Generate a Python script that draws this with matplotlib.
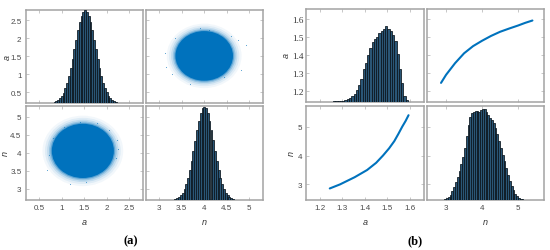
import matplotlib
matplotlib.use("Agg")
import matplotlib.pyplot as plt
from matplotlib.patches import Ellipse

W, H = 550, 251

# ---------------- panel (a): histograms ----------------
a_hist_a_centers = [0.84, 0.88, 0.92, 0.96, 1.00, 1.04, 1.08, 1.12, 1.16, 1.20, 1.24, 1.28,
                    1.32, 1.36, 1.40, 1.44, 1.48, 1.52, 1.56, 1.60, 1.64, 1.68, 1.72, 1.76,
                    1.80, 1.84, 1.88, 1.92, 1.96, 2.00, 2.04, 2.08, 2.12, 2.16, 2.20]
a_hist_a_heights = [0.012, 0.021, 0.034, 0.052, 0.079, 0.112, 0.161, 0.219, 0.293, 0.381, 0.476, 0.581,
                    0.684, 0.786, 0.872, 0.942, 0.984, 1.000, 0.986, 0.940, 0.874, 0.784, 0.686, 0.579,
                    0.478, 0.380, 0.295, 0.220, 0.159, 0.114, 0.077, 0.053, 0.033, 0.020, 0.012]
a_hist_n_centers = [3.36, 3.40, 3.44, 3.48, 3.52, 3.56, 3.60, 3.64, 3.68, 3.72, 3.76, 3.80,
                    3.84, 3.88, 3.92, 3.96, 4.00, 4.04, 4.08, 4.12, 4.16, 4.20, 4.24, 4.28,
                    4.32, 4.36, 4.40, 4.44, 4.48, 4.52, 4.56, 4.60, 4.64]
a_hist_n_heights = [0.010, 0.017, 0.029, 0.048, 0.076, 0.112, 0.166, 0.231, 0.316, 0.411, 0.522, 0.635,
                    0.750, 0.849, 0.931, 0.981, 1.000, 0.983, 0.929, 0.851, 0.748, 0.637, 0.520, 0.413,
                    0.314, 0.233, 0.164, 0.114, 0.075, 0.049, 0.028, 0.018, 0.010]

# panel (a): sample clouds (centre, dense-core half widths) and stray samples
a_cloud_tr = dict(n=4.00, a=1.51, wn=0.64, wa=0.69)   # x = n, y = a
a_cloud_bl = dict(a=1.47, n=4.05, wa=0.69, wn=0.75)   # x = a, y = n
a_stray_tr_n = [4.92, 3.12, 3.15, 4.10, 4.81, 3.69, 4.60, 3.35, 4.45, 3.90, 4.75, 3.28]
a_stray_tr_a = [1.81, 1.58, 1.21, 2.24, 1.11, 0.74, 2.05, 2.02, 0.92, 2.28, 1.95, 1.02]
a_stray_bl_a = [1.19, 2.22, 1.78, 0.67, 2.20, 0.80, 1.55, 2.05, 1.05, 1.40, 2.25, 0.72]
a_stray_bl_n = [3.13, 4.34, 4.81, 3.51, 3.85, 4.40, 3.20, 4.62, 4.72, 4.85, 4.10, 3.95]

# ---------------- panel (b) ----------------
b_hist_a_centers = [1.245, 1.255, 1.265, 1.275, 1.285, 1.295, 1.305, 1.315, 1.325, 1.335, 1.345, 1.355,
                    1.365, 1.375, 1.385, 1.395, 1.405, 1.415, 1.425, 1.435, 1.445, 1.455, 1.465, 1.475,
                    1.485, 1.495, 1.505, 1.515, 1.525, 1.535, 1.545, 1.555, 1.565, 1.575, 1.585]
b_hist_a_heights = [0.5, 0.5, 1, 1, 1.5, 2, 3, 4.5, 7, 10, 16, 22,
                    34, 50, 68, 98, 118, 140, 162, 180, 190, 196, 207, 214,
                    220, 228, 219, 214, 200, 182, 145, 100, 55, 18, 4]
b_hist_n_centers = [2.975, 3.025, 3.075, 3.125, 3.175, 3.225, 3.275, 3.325, 3.375, 3.425, 3.475, 3.525,
                    3.575, 3.625, 3.675, 3.725, 3.775, 3.825, 3.875, 3.925, 3.975, 4.025, 4.075, 4.125,
                    4.175, 4.225, 4.275, 4.325, 4.375, 4.425, 4.475, 4.525, 4.575, 4.625, 4.675, 4.725,
                    4.775, 4.825, 4.875, 4.925, 4.975, 5.025, 5.075, 5.125]
b_hist_n_heights = [2, 4, 8, 15, 26, 38, 52, 68, 86, 106, 128, 155,
                    190, 222, 248, 260, 263, 264, 266, 262, 268, 270, 272, 262,
                    252, 244, 238, 228, 214, 196, 176, 154, 134, 114, 94, 74,
                    56, 42, 30, 18, 11, 6, 3, 1]
# posterior ridge (n vs a)
b_curve_n = [2.86, 3.00, 3.25, 3.50, 3.75, 4.00, 4.25, 4.50, 4.75, 5.00, 5.20, 5.40]
b_curve_a = [1.245, 1.290, 1.355, 1.410, 1.450, 1.480, 1.507, 1.530, 1.548, 1.565, 1.580, 1.593]

# axis limits and ticks
a_lim_a, a_lim_n = (0.2, 2.8), (2.7, 5.3)
b_lim_a, b_lim_n = (1.14, 1.66), (2.47, 5.73)
a_ticks_a, a_ticks_n = [0.5, 1, 1.5, 2, 2.5], [3, 3.5, 4, 4.5, 5]
b_ticks_a, b_ticks_n = [1.2, 1.3, 1.4, 1.5, 1.6], [3, 4, 5]

blue = '#0072bd'
bar_face = '#2a5676'
bar_edge = '#0a141c'
frame = '#a3a3a3'
tick_col = '#4a4a4a'
sans = 'Liberation Sans'
serif = 'Liberation Serif'

fig = plt.figure(figsize=(W / 100, H / 100), dpi=100)


def box(x0, y0, x1, y1):
    return [x0 / W, 1 - y1 / H, (x1 - x0) / W, (y1 - y0) / H]


def style(ax, xlim, ylim, xt, yt, xlab=False, ylab=False, yfont=sans):
    ax.set_xlim(xlim)
    ax.set_ylim(ylim)
    ax.set_xticks(xt)
    ax.set_yticks(yt)
    ax.tick_params(direction='in', length=2, width=0.5, color='#b0b0b0',
                   top=True, right=True, labelsize=5.8, labelcolor=tick_col, pad=3)
    ax.set_xticklabels([f'{t:g}' for t in xt] if xlab else [])
    ax.set_yticklabels([f'{t:g}' for t in yt] if ylab else [])
    for lb in ax.get_xticklabels():
        lb.set_family(sans)
    for lb in ax.get_yticklabels():
        lb.set_family(yfont)
        if yfont == serif:
            lb.set_fontsize(6.6)
            lb.set_color('#333333')
    if yfont == serif:
        ax.tick_params(axis='y', pad=2)
    for s in ax.spines.values():
        s.set_color(frame)
        s.set_linewidth(1.1)


def hist(ax, centers, heights, width, top_frac):
    hx = ax.twinx()
    hx.bar(centers, heights, width=width, color=bar_face, edgecolor=bar_edge,
           linewidth=0.55, align='center')
    hx.set_ylim(0, max(heights) / top_frac)
    hx.set_yticks([])
    for s in hx.spines.values():
        s.set_visible(False)


def cloud(ax, cx, cy, wx, wy, sx, sy):
    for k, al in [(1.30, 0.05), (1.22, 0.08), (1.15, 0.13), (1.09, 0.22), (1.04, 0.4), (1.0, 1.0)]:
        ax.add_patch(Ellipse((cx, cy), 2 * wx * k, 2 * wy * k, facecolor=blue,
                             edgecolor='none', alpha=al))
    ax.scatter(sx, sy, s=0.6, color=blue, linewidths=0, alpha=0.7)


# ---- panel (a)
ax = fig.add_axes(box(25.7, 10.5, 142.7, 104))
style(ax, a_lim_a, a_lim_a, a_ticks_a, a_ticks_a, ylab=True)
hist(ax, a_hist_a_centers, a_hist_a_heights, 0.04, 0.99)

ax = fig.add_axes(box(145.7, 10.5, 262.7, 104))
style(ax, a_lim_n, a_lim_a, a_ticks_n, a_ticks_a)
c = a_cloud_tr
cloud(ax, c['n'], c['a'], c['wn'], c['wa'], a_stray_tr_n, a_stray_tr_a)

ax = fig.add_axes(box(25.7, 106.7, 142.7, 200.7))
style(ax, a_lim_a, a_lim_n, a_ticks_a, a_ticks_n, xlab=True, ylab=True)
c = a_cloud_bl
cloud(ax, c['a'], c['n'], c['wa'], c['wn'], a_stray_bl_a, a_stray_bl_n)

ax = fig.add_axes(box(145.7, 106.7, 262.7, 200.7))
style(ax, a_lim_n, a_lim_n, a_ticks_n, a_ticks_n, xlab=True)
hist(ax, a_hist_n_centers, a_hist_n_heights, 0.04, 0.99)

# ---- panel (b)
ax = fig.add_axes(box(306, 9.5, 423.7, 102.7))
style(ax, b_lim_a, b_lim_a, b_ticks_a, b_ticks_a, ylab=True, yfont=serif)
hist(ax, b_hist_a_centers, b_hist_a_heights, 0.01, 0.81)

ax = fig.add_axes(box(427, 9.5, 544.3, 102.7))
style(ax, b_lim_n, b_lim_a, b_ticks_n, b_ticks_a)
ax.plot(b_curve_n, b_curve_a, color=blue, lw=1.5, solid_capstyle='round')

ax = fig.add_axes(box(306, 106.7, 423.7, 200.7))
style(ax, b_lim_a, b_lim_n, b_ticks_a, b_ticks_n, xlab=True, ylab=True)
ax.plot(b_curve_a, b_curve_n, color=blue, lw=1.5, solid_capstyle='round')

ax = fig.add_axes(box(427, 106.7, 544.3, 200.7))
style(ax, b_lim_n, b_lim_n, b_ticks_n, b_ticks_n, xlab=True)
hist(ax, b_hist_n_centers, b_hist_n_heights, 0.05, 0.97)

# axis labels
lab = dict(fontsize=6.5, style='italic', color='#333333', family=sans, ha='center', va='center')
fig.text(7.3 / W, 1 - 57 / H, 'a', rotation=90, **lab)
fig.text(5.5 / W, 1 - 153 / H, 'n', rotation=90, **lab)
fig.text(84 / W, 1 - 223 / H, 'a', **lab)
fig.text(204 / W, 1 - 223 / H, 'n', **lab)
fig.text(286 / W, 1 - 56 / H, 'a', rotation=90, **lab)
fig.text(291 / W, 1 - 153 / H, 'n', rotation=90, **lab)
fig.text(365 / W, 1 - 223 / H, 'a', **lab)
fig.text(485.5 / W, 1 - 223 / H, 'n', **lab)

cap = dict(fontsize=9, fontweight='bold', family=serif, ha='center', va='center', color='black')
fig.text(131 / W, 1 - 241 / H, '(a)', **cap)
fig.text(415 / W, 1 - 241 / H, '(b)', **cap)

fig.savefig('out.png', dpi=100)
